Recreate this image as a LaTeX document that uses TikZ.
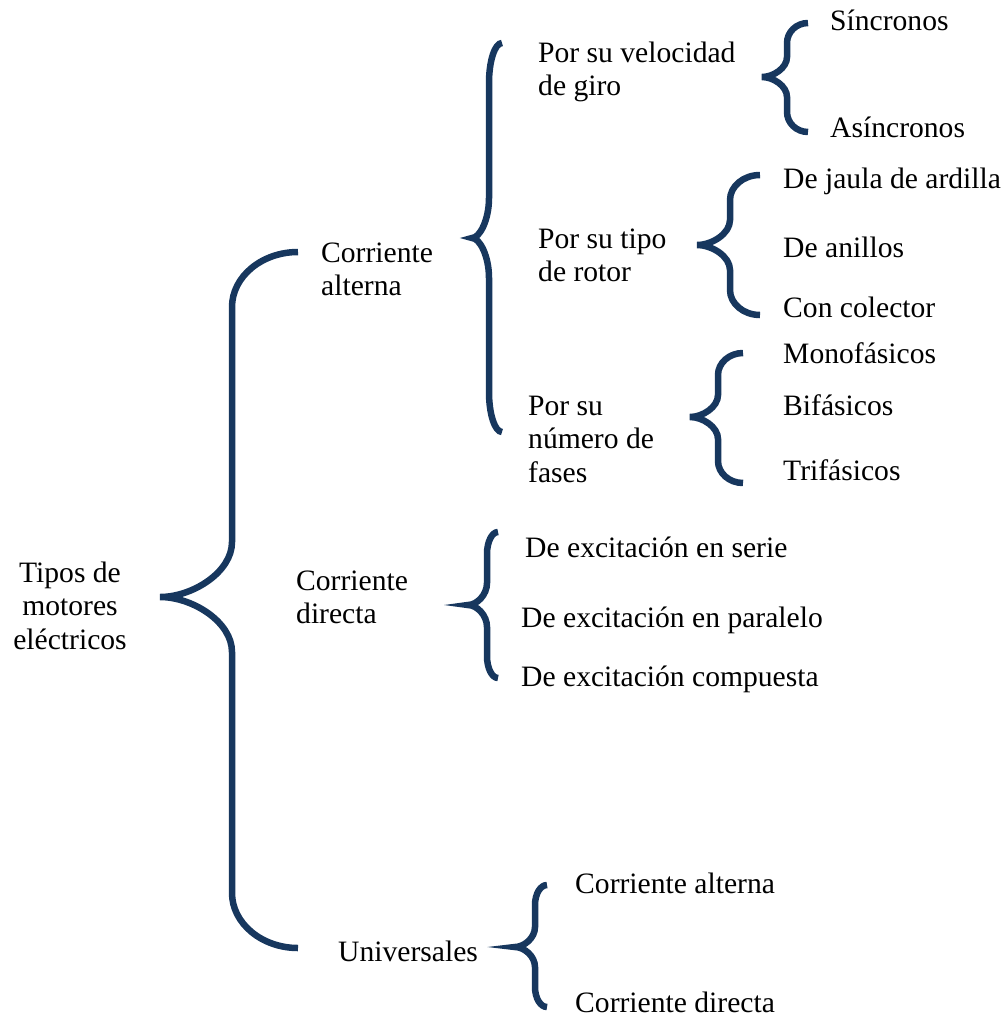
\documentclass[tikz,border=0pt]{standalone}
\usepackage{fontspec}
\setmainfont{Liberation Serif}
\definecolor{bracecol}{RGB}{23,55,94}
\newcommand\curlybr[7]{%
  \draw[brace] (#1,#4) .. controls ({#1-0.55*(#1-#2)},#4) and (#2,{#4+0.45*#7}) .. (#2,{#4+#7})
    -- (#2,{#5-#7}) .. controls (#2,{#5-0.45*#7}) and ({#3+0.45*(#2-#3)},#5) .. (#3,#5)
    .. controls ({#3+0.45*(#2-#3)},#5) and (#2,{#5+0.45*#7}) .. (#2,{#5+#7})
    -- (#2,{#6-#7}) .. controls (#2,{#6-0.45*#7}) and ({#1-0.55*(#1-#2)},#6) .. (#1,#6);}
\newcommand\ltext[1]{\begin{tabular}[t]{@{}l@{}}#1\end{tabular}}
\newcommand\ctext[1]{\begin{tabular}[t]{@{}c@{}}#1\end{tabular}}
\begin{document}
\begin{tikzpicture}[x=1pt,y=-1pt,
  brace/.style={draw=bracecol,line width=6.5pt},
  lbl/.style={inner sep=0pt,anchor=base west,font=\fontsize{29.6}{33.5}\selectfont},
  clbl/.style={inner sep=0pt,anchor=base,font=\fontsize{29.6}{33.5}\selectfont}]
\useasboundingbox (0,0) rectangle (1002,1017);
% braces
\curlybr{298}{232}{160}{252}{597}{948}{55}
\curlybr{502}{489}{472}{43}{238}{432}{40}
\curlybr{808}{787}{762}{23}{77}{132}{20}
\curlybr{760}{730}{697}{175}{245}{315}{25}
\curlybr{743}{718}{690}{353}{417}{483}{22}
\curlybr{498}{487}{468}{532}{605}{678}{22}
\curlybr{547}{535}{515}{885}{947}{1007}{20}
% texts
\node[clbl] (root) at (70,582) {\ctext{Tipos de\\motores\\eléctricos}};
\node[lbl] (ca) at (321,262) {\ltext{Corriente\\alterna}};
\node[lbl] (cd) at (296,590) {\ltext{Corriente\\directa}};
\node[lbl] (un) at (338,961) {Universales};
\node[lbl] (vel) at (538,62) {\ltext{Por su velocidad\\de giro}};
\node[lbl] (rot) at (538,248) {\ltext{Por su tipo\\de rotor}};
\node[lbl] (fas) at (528,415) {\ltext{Por su\\número de\\fases}};
\node[lbl] (sin) at (830,30) {Síncronos};
\node[lbl] (asin) at (830,137) {Asíncronos};
\node[lbl] (jau) at (783,188) {De jaula de ardilla};
\node[lbl] (ani) at (783,257) {De anillos};
\node[lbl] (col) at (783,317) {Con colector};
\node[lbl] (mono) at (783,363) {Monofásicos};
\node[lbl] (bif) at (783,415) {Bifásicos};
\node[lbl] (trif) at (783,480) {Trifásicos};
\node[lbl] (ser) at (525,557) {De excitación en serie};
\node[lbl] (par) at (521,627) {De excitación en paralelo};
\node[lbl] (com) at (521,686) {De excitación compuesta};
\node[lbl] (uca) at (575,893) {Corriente alterna};
\node[lbl] (ucd) at (575,1012) {Corriente directa};
\end{tikzpicture}
\end{document}
